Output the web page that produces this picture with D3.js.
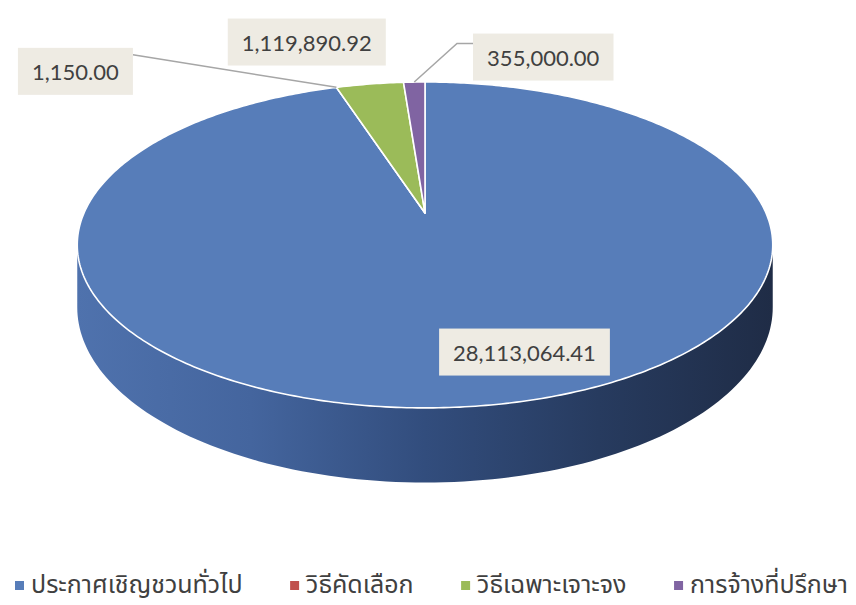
<!DOCTYPE html>
<html>
<head>
<meta charset="utf-8">
<script src="https://cdn.jsdelivr.net/npm/d3@7"></script>
<style>
  body { margin: 0; background: #fff; }
  svg { display: block; }
</style>
</head>
<body>
<div id="chart"></div>
<script>
// 数据
var categories = ["ประกาศเชิญชวนทั่วไป", "วิธีคัดเลือก", "วิธีเฉพาะเจาะจง", "การจ้างที่ปรึกษา"];
var values = [28113064.41, 1150.00, 1119890.92, 355000.00];
var sliceColors = ["#577db9", "#c0504d", "#9bbb59", "#8064a2"];

var width = 856, height = 605;
// 3D pie geometry (projected)
var cx = 425, cy = 213;      // centre of the top face
var rx = 341, ry = 156.7;    // radii before perspective
var persp = 0.196;           // far side shrink
var depth = 60;              // thickness

var svg = d3.select("#chart").append("svg")
    .attr("width", width)
    .attr("height", height);

// project a point of the pie: angle clockwise from 12 o'clock, radius 0..1, level 0 top / 1 bottom
function proj(a, r, h) {
    var k = 1 + persp * r * Math.cos(a);
    return [
        cx + rx * r * Math.sin(a) / k,
        cy - ry * r * Math.cos(a) / k + h * depth / k
    ];
}

var pie = d3.pie().sort(null).value(function (d) { return d; });
var arcs = pie(values);
var fmt = d3.format(",.2f");

// gradient for the side
var defs = svg.append("defs");
var grad = defs.append("linearGradient")
    .attr("id", "sideGrad")
    .attr("gradientUnits", "userSpaceOnUse")
    .attr("x1", cx - rx * 1.02).attr("x2", cx + rx * 1.02)
    .attr("y1", 0).attr("y2", 0);
[["0%", "#4f72ad"], ["25%", "#44659e"], ["50%", "#324d7d"], ["75%", "#273b5f"], ["100%", "#1f2c46"]]
    .forEach(function (s) {
        grad.append("stop").attr("offset", s[0]).attr("stop-color", s[1]);
    });

var line = d3.line();

// side (only the front half is visible)
var visA = Math.acos(-persp), visB = 2 * Math.PI - Math.acos(-persp);
arcs.forEach(function (d, i) {
    var a0 = Math.max(d.startAngle, visA), a1 = Math.min(d.endAngle, visB);
    if (a1 <= a0) return;
    var n = 120, top = [], bot = [];
    for (var j = 0; j <= n; j++) {
        var a = a0 + (a1 - a0) * j / n;
        top.push(proj(a, 1, 0));
        bot.push(proj(a, 1, 1));
    }
    var pts = top.concat(bot.reverse());
    svg.append("path")
        .attr("d", line(pts) + "Z")
        .attr("fill", i === 0 ? "url(#sideGrad)" : d3.color(sliceColors[i]).darker(1))
        .attr("stroke", "none");
});

// top face slices
arcs.forEach(function (d, i) {
    var n = Math.max(4, Math.ceil((d.endAngle - d.startAngle) * 80));
    var pts = [proj(0, 0, 0)];
    for (var j = 0; j <= n; j++) {
        var a = d.startAngle + (d.endAngle - d.startAngle) * j / n;
        pts.push(proj(a, 1, 0));
    }
    svg.append("path")
        .attr("d", line(pts) + "Z")
        .attr("fill", sliceColors[i])
        .attr("stroke", "#ffffff")
        .attr("stroke-width", 1.6)
        .attr("stroke-linejoin", "round");
});

// data labels: offsets from the slice's outer edge point
var labelShift = [
    {r: 0.62, dx: 62, dy: 30, leader: false},
    {r: 1, dx: -261, dy: -16, leader: true},
    {r: 1, dx: -63, dy: -42, leader: false},
    {r: 1, dx: 129, dy: -25, leader: true}
];

var labelG = svg.append("g");
arcs.forEach(function (d, i) {
    var mid = (d.startAngle + d.endAngle) / 2;
    var s = labelShift[i];
    var p = proj(mid, s.r, 0);
    var lx = p[0] + s.dx, ly = p[1] + s.dy;

    var g = labelG.append("g");
    var t = g.append("text")
        .attr("x", lx).attr("y", ly)
        .attr("text-anchor", "middle")
        .attr("dominant-baseline", "central")
        .style("font-family", "Lato, 'Open Sans', sans-serif")
        .style("font-size", "22px")
        .attr("fill", "#404040")
        .text(fmt(values[i]));
    var bb = t.node().getBBox();
    var bw = bb.width + 28, bh = 47;
    g.insert("rect", "text")
        .attr("x", lx - bw / 2).attr("y", ly - bh / 2)
        .attr("width", bw).attr("height", bh)
        .attr("fill", "#eeebe3");

    if (s.leader) {
        var pts;
        if (s.dx < 0) {
            pts = [[lx + bw / 2, ly - bh / 2 + 7], p];
        } else {
            pts = [[lx - bw / 2, ly - bh / 2 + 10], [lx - bw / 2 - 16, ly - bh / 2 + 10], p];
        }
        labelG.insert("path", "g")
            .attr("d", line(pts))
            .attr("fill", "none")
            .attr("stroke", "#a6a6a6")
            .attr("stroke-width", 1.5);
    }
});

// legend
var legend = svg.append("g").attr("transform", "translate(0,585)");
var items = legend.selectAll(".legendItem")
    .data(categories)
    .enter().append("g")
    .attr("class", "legendItem");
items.append("rect")
    .attr("width", 9).attr("height", 9)
    .attr("y", -4)
    .attr("fill", function (d, i) { return sliceColors[i]; });
items.append("text")
    .attr("x", 16)
    .attr("dominant-baseline", "central")
    .style("font-family", "'Noto Sans Thai', 'Noto Sans', 'DejaVu Sans', sans-serif")
    .style("font-size", "25px")
    .attr("fill", "#404040")
    .text(function (d) { return d; });

// spread the legend from x=15 to x=848
var widths = [];
items.each(function () { widths.push(this.getBBox().width); });
var gap = (833 - d3.sum(widths)) / (widths.length - 1);
var xPos = 15;
items.attr("transform", function (d, i) {
    var x = xPos;
    xPos += widths[i] + gap;
    return "translate(" + x + ",0)";
});
</script>
</body>
</html>
